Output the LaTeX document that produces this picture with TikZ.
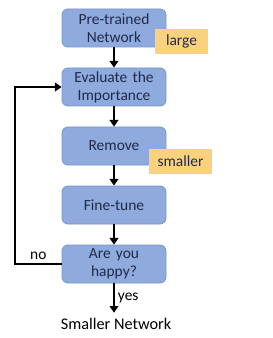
\documentclass[tikz,border=0pt]{standalone}
\usepackage{fontspec}
\setmainfont{Carlito}
\usetikzlibrary{arrows.meta}
\definecolor{stepfill}{HTML}{8FAADC}
\definecolor{stepedge}{HTML}{7A94CA}
\definecolor{steptext}{HTML}{1F2A4A}
\definecolor{tagfill}{HTML}{FAD27E}

\begin{document}
\begin{tikzpicture}[
  x=0.75pt,
  y=-0.75pt,
  every node/.style={font=\fontsize{11.6}{13.4}\selectfont, steptext},
  stepbox/.style={draw=stepedge, line width=0.6pt, fill=stepfill, rounded corners=4.5pt,
                  minimum width=78pt, minimum height=28.5pt, text width=74pt,
                  align=center, inner sep=0pt},
  tagbox/.style={fill=tagfill, minimum height=18.75pt, inner sep=0pt},
  flow/.style={black, line width=1.9pt, -{Triangle[length=5pt,width=6.5pt]}},
  flowlab/.style={black, inner sep=2pt}
]
  % ---- bounding box of the screenshot ----
  \path (0,0) rectangle (272,338);

  % ---- the steps ----
  \node[stepbox] (pretrained) at (114,28)  {Pre-trained\\Network};
  \node[stepbox] (evaluate)   at (114,87)  {Evaluate the\\Importance};
  \node[stepbox] (remove)     at (114,146) {Remove};
  \node[stepbox] (finetune)   at (114,205) {Fine-tune};
  \node[stepbox] (happy)      at (114,264) {Are you\\happy?};
  \node[black, inner sep=4pt, font=\fontsize{12.2}{14}\selectfont] (result)
    at (116,324) {Smaller Network};

  % ---- size tags, on top of the boxes ----
  \node[tagbox, minimum width=39.75pt] (large)   at (181.5,41.5)  {large};
  \node[tagbox, minimum width=47.25pt] (smaller) at (180.5,161.5) {smaller};

  % ---- main flow ----
  \draw[flow] (pretrained) -- (evaluate);
  \draw[flow] (evaluate) -- (remove);
  \draw[flow] (remove) -- (finetune);
  \draw[flow] (finetune) -- (happy);
  \draw[flow] (happy.south) -- node[flowlab, right] {yes} (happy.south |- result.north);

  % ---- back to the evaluation when not happy ----
  \coordinate (back) at (15,264);
  \draw[flow] (happy.west) -- node[flowlab, above] {no} (back) |- (evaluate.west);
\end{tikzpicture}
\end{document}
